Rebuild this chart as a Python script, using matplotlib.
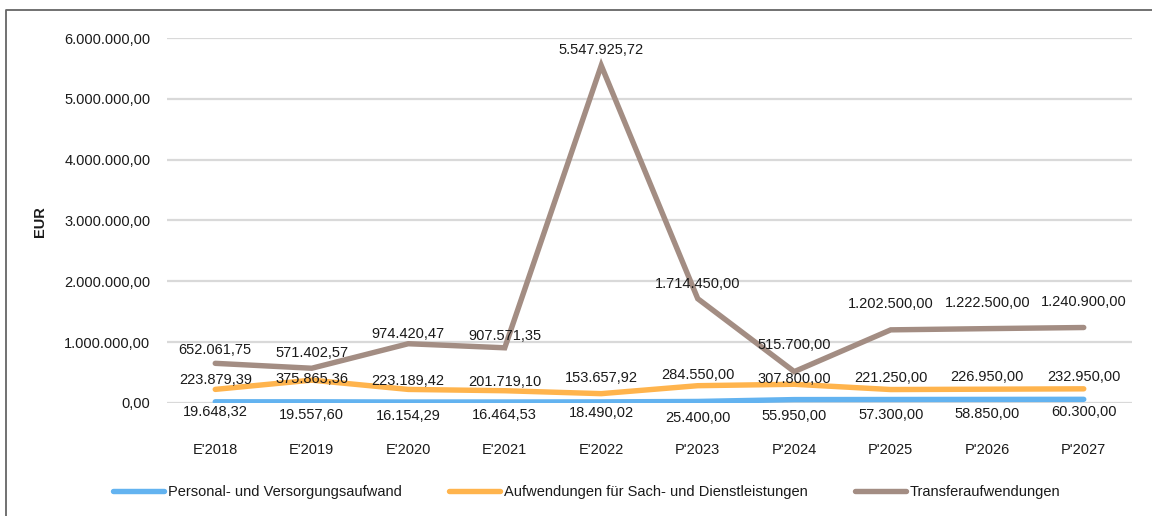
import matplotlib
matplotlib.use("Agg")
import matplotlib.pyplot as plt
from matplotlib.lines import Line2D
from matplotlib.ticker import FuncFormatter

plt.rcParams['font.family'] = ['Liberation Sans', 'DejaVu Sans']

categories = ["E'2018", "E'2019", "E'2020", "E'2021", "E'2022",
              "P'2023", "P'2024", "P'2025", "P'2026", "P'2027"]
personal = [19648.32, 19557.60, 16154.29, 16464.53, 18490.02,
            25400.00, 55950.00, 57300.00, 58850.00, 60300.00]
sach = [223879.39, 375865.36, 223189.42, 201719.10, 153657.92,
        284550.00, 307800.00, 221250.00, 226950.00, 232950.00]
transfer = [652061.75, 571402.57, 974420.47, 907571.35, 5547925.72,
            1714450.00, 515700.00, 1202500.00, 1222500.00, 1240900.00]
series_names = ["Personal- und Versorgungsaufwand",
                "Aufwendungen für Sach- und Dienstleistungen",
                "Transferaufwendungen"]
y_ticks = [0, 1000000, 2000000, 3000000, 4000000, 5000000, 6000000]

colors = ["#63B3F0", "#FFB44D", "#A38D83"]
# label centre offsets in pixels (layout only)
off_personal = [-9, -12, -12, -12, -10, -15.5, -14.5, -13.5, -13.5, -11.5]
off_sach = [11, 3, 9.5, 10.5, 17, 12.5, 7, 13, 13.5, 13]
off_transfer = [15, 16.5, 11, 13, 17.5, 16, 28, 27, 27, 27.5]


def de_fmt(v):
    s = f"{v:,.2f}"
    return s.replace(",", "X").replace(".", ",").replace("X", ".")


fig = plt.figure(figsize=(11.52, 5.16), dpi=100)
ax = fig.add_axes([167/1152, 1-403/516, (1132-167)/1152, (403-38)/516])

x = list(range(len(categories)))
lw = 3.9
handles = []
for vals, col, name, offs in [
        (personal, colors[0], series_names[0], off_personal),
        (sach, colors[1], series_names[1], off_sach),
        (transfer, colors[2], series_names[2], off_transfer)]:
    h, = ax.plot(x, vals, color=col, lw=lw, solid_capstyle='round',
                 solid_joinstyle='miter', label=name, zorder=3)
    handles.append(h)
    for xi, v, o in zip(x, vals, offs):
        ax.annotate(de_fmt(v), (xi, v), xytext=(0, o), textcoords='offset pixels',
                    ha='center', va='center_baseline',
                    fontsize=10.5, color='#1a1a1a', zorder=4)

ax.set_xlim(-0.5, len(categories) - 0.5)
ax.set_ylim(0, 6000000)
ax.set_yticks(y_ticks)
ax.yaxis.set_major_formatter(FuncFormatter(lambda v, p: de_fmt(v)))
ax.set_xticks(x)
ax.set_xticklabels(categories)
ax.tick_params(axis='both', length=0, labelsize=10.5, colors='#1a1a1a')
ax.tick_params(axis='y', pad=12)
ax.tick_params(axis='x', pad=29)
ax.grid(axis='y', color='#d9d9d9', lw=1.6, zorder=0)
ax.set_axisbelow(True)
for s in ax.spines.values():
    s.set_visible(False)

fig.text(40/1152, 1-222/516, "EUR", rotation=90, ha='center', va='center',
         fontsize=10.5, fontweight='bold', color='#1a1a1a')

leg = fig.legend(handles=handles, loc='center', ncol=3,
                 bbox_to_anchor=(587/1152, 1-492/516), frameon=False,
                 fontsize=10.5, handlelength=3.5, columnspacing=3.25,
                 handletextpad=0.25)
for t in leg.get_texts():
    t.set_color('#1a1a1a')

# outer frame (left and top visible)
fig.add_artist(Line2D([6/1152, 6/1152, 1.0], [0.0, 1-10/516, 1-10/516],
                      transform=fig.transFigure, color='#666666', lw=1.3))

fig.savefig("out.png", dpi=100)
